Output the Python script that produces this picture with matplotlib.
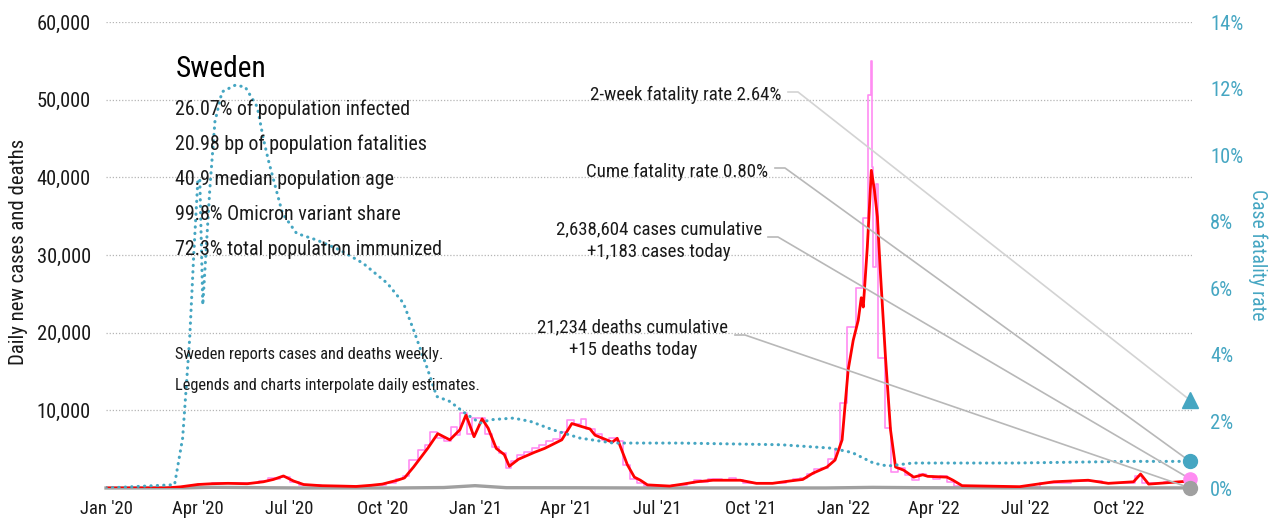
import matplotlib
matplotlib.use("Agg")
import matplotlib.pyplot as plt
import matplotlib.dates as mdates
import matplotlib.ticker as mticker
from matplotlib import font_manager
import pandas as pd

# pick a narrow face if there is one
fonts = font_manager.fontManager.ttflist
names = {f.name for f in fonts}
narrow = [n for n in ["Liberation Sans Narrow", "Roboto Condensed", "Open Sans Condensed",
                      "Noto Sans Condensed", "DejaVu Sans Condensed"] if n in names]
narrow += sorted(n for n in names if ("Condensed" in n or "Narrow" in n) and n not in narrow)
if narrow:
    plt.rcParams["font.family"] = [narrow[0], "DejaVu Sans"]
elif any(f.name == "DejaVu Sans" and f.stretch == "condensed" for f in fonts):
    plt.rcParams["font.family"] = ["DejaVu Sans"]
    plt.rcParams["font.stretch"] = "condensed"
else:
    plt.rcParams["font.family"] = ["Roboto", "DejaVu Sans"]

# ---- data ----
country = "Sweden"
end_date = "2022-12-11"

case_dates = ["2020-01-01", "2020-03-01", "2020-03-15", "2020-04-01", "2020-04-15", "2020-05-01",
              "2020-05-20", "2020-06-05", "2020-06-15", "2020-06-25", "2020-07-05", "2020-07-15",
              "2020-08-01", "2020-08-20", "2020-09-05", "2020-09-20", "2020-10-01", "2020-10-16",
              "2020-10-23", "2020-11-01", "2020-11-15", "2020-11-25", "2020-12-07", "2020-12-17",
              "2020-12-23", "2020-12-31", "2021-01-08", "2021-01-14", "2021-01-22", "2021-01-30",
              "2021-02-04", "2021-02-13", "2021-03-01", "2021-03-11", "2021-03-28", "2021-04-07",
              "2021-04-17", "2021-04-25", "2021-04-30", "2021-05-17", "2021-05-22", "2021-06-01",
              "2021-06-08", "2021-06-14", "2021-06-21", "2021-07-13", "2021-07-26", "2021-08-09",
              "2021-08-25", "2021-09-21", "2021-10-07", "2021-10-23", "2021-11-09", "2021-11-22",
              "2021-12-02", "2021-12-16", "2021-12-24", "2021-12-31", "2022-01-06", "2022-01-11",
              "2022-01-16", "2022-01-19", "2022-01-21", "2022-01-25", "2022-01-29", "2022-02-01",
              "2022-02-04", "2022-02-07", "2022-02-12", "2022-02-17", "2022-02-22", "2022-03-02",
              "2022-03-12", "2022-03-21", "2022-03-26", "2022-04-14", "2022-04-20", "2022-04-29",
              "2022-06-25", "2022-07-29", "2022-09-01", "2022-09-21", "2022-10-16", "2022-10-23",
              "2022-10-31", "2022-12-11"]
case_avg = [0, 10, 150, 450, 550, 600,
            550, 800, 1100, 1550, 900, 450,
            300, 250, 200, 350, 500, 1000,
            1300, 2700, 5100, 7000, 6200, 7500,
            9400, 6600, 8900, 7700, 5100, 4300,
            2800, 3700, 4600, 5100, 6200, 8300,
            7900, 7600, 6800, 5900, 6400, 3000,
            1400, 1000, 400, 250, 500, 800,
            1000, 1000, 600, 600, 900, 1100,
            1900, 2700, 3600, 6200, 15200, 19000,
            21600, 24500, 23300, 31000, 40900, 38400,
            34900, 27700, 16900, 7500, 2700, 2300,
            1400, 1700, 1500, 1400, 1000, 300,
            170, 800, 1000, 600, 800, 1800,
            500, 900]

daily_dates = ["2020-01-01", "2020-03-10", "2020-03-20", "2020-04-01", "2020-04-15", "2020-05-01",
               "2020-05-15", "2020-06-01", "2020-06-10", "2020-06-17", "2020-06-22", "2020-07-01",
               "2020-07-10", "2020-08-01", "2020-09-01", "2020-09-20", "2020-10-05", "2020-10-15",
               "2020-10-22", "2020-10-27", "2020-11-05", "2020-11-12", "2020-11-17", "2020-11-24",
               "2020-12-01", "2020-12-08", "2020-12-14", "2020-12-17", "2020-12-24", "2020-12-29",
               "2021-01-05", "2021-01-11", "2021-01-18", "2021-01-25", "2021-02-01", "2021-02-06",
               "2021-02-12", "2021-02-19", "2021-02-26", "2021-03-05", "2021-03-12", "2021-03-19",
               "2021-03-26", "2021-04-02", "2021-04-09", "2021-04-16", "2021-04-21", "2021-04-30",
               "2021-05-07", "2021-05-14", "2021-05-21", "2021-05-28", "2021-06-04", "2021-06-11",
               "2021-06-18", "2021-07-15", "2021-07-30", "2021-08-06", "2021-08-13", "2021-08-20",
               "2021-08-27", "2021-09-03", "2021-09-10", "2021-09-17", "2021-09-24", "2021-10-15",
               "2021-11-05", "2021-11-12", "2021-11-19", "2021-11-26", "2021-12-03", "2021-12-10",
               "2021-12-17", "2021-12-24", "2021-12-29", "2022-01-05", "2022-01-14", "2022-01-21",
               "2022-01-26", "2022-01-29", "2022-01-30", "2022-01-31", "2022-02-03", "2022-02-05",
               "2022-02-12", "2022-02-17", "2022-02-24", "2022-03-03", "2022-03-10", "2022-03-17",
               "2022-03-24", "2022-03-31", "2022-04-07", "2022-04-14", "2022-04-21", "2022-06-01",
               "2022-07-15", "2022-08-15", "2022-09-15", "2022-10-17", "2022-10-24", "2022-11-15",
               "2022-12-11"]
daily_cases = [0, 100, 300, 550, 700, 650,
               700, 900, 1300, 1100, 1400, 800,
               400, 300, 250, 400, 700, 1100,
               1600, 3600, 4900, 5600, 7200, 6500,
               6000, 7900, 6800, 9600, 7000, 9000,
               9000, 7000, 5300, 4500, 2600, 3500,
               4200, 4600, 5200, 5600, 6000, 6300,
               7200, 8700, 8200, 8900, 7600, 7000,
               6200, 6500, 6000, 2900, 1200, 600,
               250, 400, 600, 1000, 800, 1100,
               1200, 1000, 1300, 1000, 700, 600,
               900, 1200, 1300, 1800, 2500, 2600,
               3700, 5000, 11000, 20700, 25700, 34700,
               50600, 55000, 41300, 28400, 39200, 16700,
               7700, 2000, 2600, 1700, 1000, 1800,
               1500, 1200, 1500, 800, 300, 150,
               700, 900, 700, 1600, 600, 800,
               1183]

death_dates = ["2020-01-01", "2020-03-20", "2020-04-15", "2020-05-15", "2020-06-15", "2020-07-15",
               "2020-10-15", "2020-12-01", "2021-01-01", "2021-02-01", "2021-04-15", "2021-06-15",
               "2021-12-15", "2022-01-30", "2022-03-15", "2022-06-15", "2022-12-11"]
daily_deaths = [0, 20, 90, 60, 30, 5,
                5, 60, 300, 40, 30, 5,
                5, 80, 40, 10, 15]

cfr_dates = ["2020-01-01", "2020-03-09", "2020-03-17", "2020-03-24", "2020-03-28", "2020-04-01",
             "2020-04-03", "2020-04-06", "2020-04-09", "2020-04-13", "2020-04-18", "2020-04-25",
             "2020-05-08", "2020-05-18", "2020-05-30", "2020-06-05", "2020-06-10", "2020-06-17",
             "2020-06-24", "2020-07-08", "2020-07-28", "2020-08-20", "2020-09-12", "2020-10-06",
             "2020-10-22", "2020-11-01", "2020-11-14", "2020-11-24", "2020-12-07", "2020-12-22",
             "2021-01-06", "2021-01-16", "2021-02-08", "2021-02-25", "2021-03-19", "2021-04-15",
             "2021-05-18", "2021-07-23", "2021-10-31", "2021-12-19", "2022-01-05", "2022-01-11",
             "2022-01-31", "2022-02-14", "2022-03-11", "2022-06-19", "2022-10-13", "2022-12-11"]
cfr_pct = [0, 0.1, 1.5, 4.5, 7.0, 9.2,
           9.3, 5.5, 7.0, 9.0, 11.0, 11.9,
           12.1, 12.05, 11.45, 10.5, 9.85, 9.05,
           8.25, 7.65, 7.45, 7.15, 6.75, 6.15,
           5.55, 4.75, 3.65, 2.75, 2.6, 2.25,
           1.95, 2.05, 2.1, 2.0, 1.75, 1.5,
           1.35, 1.35, 1.3, 1.2, 1.1, 1.05,
           0.75, 0.66, 0.75, 0.75, 0.8, 0.8]

stats = ["26.07% of population infected",
         "20.98 bp of population fatalities",
         "40.9 median population age",
         "99.8% Omicron variant share",
         "72.3% total population immunized"]
notes = ["Sweden reports cases and deaths weekly.",
         "Legends and charts interpolate daily estimates."]

cume_cases = 2638604
today_cases = 1183
cume_deaths = 21234
today_deaths = 15
cfr_2wk = 2.64
cfr_cume = 0.80

# ---- colours ----
teal = "#45a6c2"
pink = "#ff8cf2"
red = "#ff0000"
gray = "#a0a0a0"
ink = "#1a1a1a"

W, H = 1283, 527
fig = plt.figure(figsize=(W / 100, H / 100), dpi=100)

# size text so its width matches the reference (font is narrower there)
renderer = fig.canvas.get_renderer()
def fit(s, width_px):
    t = fig.text(0, 0, s, fontsize=10)
    w = t.get_window_extent(renderer).width
    t.remove()
    return 10 * width_px / w

fs_stats = fit(stats[0], 235)
fs_title = fit(country, 90)
fs_note = fit(notes[0], 267)
fs_ann = fit("2-week fatality rate 2.64%", 189)
fs_tick = fit("60,000", 54)
fs_xtick = fit("Jan '20", 53)
fs_ylab = fit("Daily new cases and deaths", 225)
fs_ylab2 = fit("Case fatality rate", 130)

ax = fig.add_axes([106 / W, 39 / H, 1086 / W, 466 / H])
ax2 = ax.twinx()

d_case = pd.to_datetime(case_dates)
d_daily = pd.to_datetime(daily_dates)
d_death = pd.to_datetime(death_dates)
d_cfr = pd.to_datetime(cfr_dates)
d_end = pd.Timestamp(end_date)

ax.plot(d_daily, daily_cases, drawstyle="steps-post", color=pink, lw=1.2, zorder=2)
ax.plot(d_death, daily_deaths, color=gray, lw=2.4, zorder=3, clip_on=False)
ax.plot(d_case, case_avg, color=red, lw=2.0, zorder=4)
ax2.plot(d_cfr, cfr_pct, color=teal, lw=2.2, linestyle=(0, (0.1, 2.0)),
         dash_capstyle="round", zorder=3)

ax.set_xlim(pd.Timestamp("2020-01-01"), d_end + pd.Timedelta(days=2))
ax.set_ylim(0, 60000)
ax2.set_ylim(0, 14)

for s in list(ax.spines.values()) + list(ax2.spines.values()):
    s.set_visible(False)

ax.set_yticks(range(10000, 60001, 10000))
ax.yaxis.set_major_formatter(mticker.FuncFormatter(lambda v, p: f"{int(v):,}"))
ax.grid(axis="y", color="#b5b5b5", lw=0.9, linestyle=(0, (1, 1.5)))
ax.tick_params(axis="y", length=0, pad=11, labelsize=fs_tick, labelcolor=ink)
ax2.set_yticks(range(0, 15, 2))
ax2.yaxis.set_major_formatter(mticker.FuncFormatter(lambda v, p: f"{int(v)}%"))
ax2.tick_params(axis="y", length=0, pad=13, labelsize=fs_tick, labelcolor=teal)

ax.xaxis.set_major_locator(mdates.MonthLocator(bymonth=[1, 4, 7, 10]))
ax.xaxis.set_major_formatter(mdates.DateFormatter("%b '%y"))
ax.tick_params(axis="x", length=0, pad=9, labelsize=fs_xtick, labelcolor=ink)

ax.set_ylabel("Daily new cases and deaths", fontsize=fs_ylab, color=ink, va="center")
ax.yaxis.set_label_coords(-0.081, 0.506)
ax2.set_ylabel("Case fatality rate", fontsize=fs_ylab2, color=teal, rotation=270,
               va="center")
ax2.yaxis.set_label_coords(1.061, 0.5)

# ---- text block ----
def fx(px):
    return (px - 106) / 1086

def fy(py):
    return (488 - py) / 466

ax2.text(fx(176), fy(77), country, fontsize=fs_title, color="black", transform=ax2.transAxes)
for i, s in enumerate(stats):
    ax2.text(fx(175), fy(115 + 35 * i), s, fontsize=fs_stats, color=ink, transform=ax2.transAxes)
for i, s in enumerate(notes):
    ax2.text(fx(175), fy(359 + 31 * i), s, fontsize=fs_note, color=ink, transform=ax2.transAxes)

# ---- end markers and leader lines ----
tr = ax2.transAxes.inverted()
def to_axes(axis, y):
    return tr.transform(axis.transData.transform((mdates.date2num(d_end), y)))

labels = [
    (f"2-week fatality rate {cfr_2wk:.2f}%", "right", 782, 100, 788, 92, ax2, cfr_2wk, "#d3d3d3"),
    (f"Cume fatality rate {cfr_cume:.2f}%", "right", 768, 177, 775, 168, ax2, cfr_cume, "#b8b8b8"),
    (f"{cume_cases:,} cases cumulative\n+{today_cases:,} cases today", "center", 659, 257, 768, 237, ax, today_cases, "#b8b8b8"),
    (f"{cume_deaths:,} deaths cumulative\n+{today_deaths} deaths today", "center", 633, 355, 735, 335, ax, today_deaths, "#b8b8b8"),
]
for text, ha, tx, ty, lx, ly, axis, val, lc in labels:
    ax2.text(fx(tx), fy(ty), text, ha=ha, va="baseline", multialignment="center",
             fontsize=fs_ann, color=ink, transform=ax2.transAxes, linespacing=1.3)
    ex, ey = to_axes(axis, val)
    ax2.plot([fx(lx), fx(lx + 10), ex], [fy(ly), fy(ly), ey], color=lc, lw=1.2,
             transform=ax2.transAxes, zorder=5, clip_on=False)

ax2.plot([d_end], [cfr_2wk], marker="^", ms=11, color=teal, zorder=7, clip_on=False)
ax2.plot([d_end], [cfr_cume], marker="o", ms=10, color=teal, zorder=7, clip_on=False)
ax2.plot([d_end], [today_cases * 14 / 60000], marker="o", ms=9.5, color=pink, zorder=6, clip_on=False)
ax2.plot([d_end], [today_deaths * 14 / 60000], marker="o", ms=10, color=gray, zorder=6, clip_on=False)

fig.savefig("out.png", dpi=100)
